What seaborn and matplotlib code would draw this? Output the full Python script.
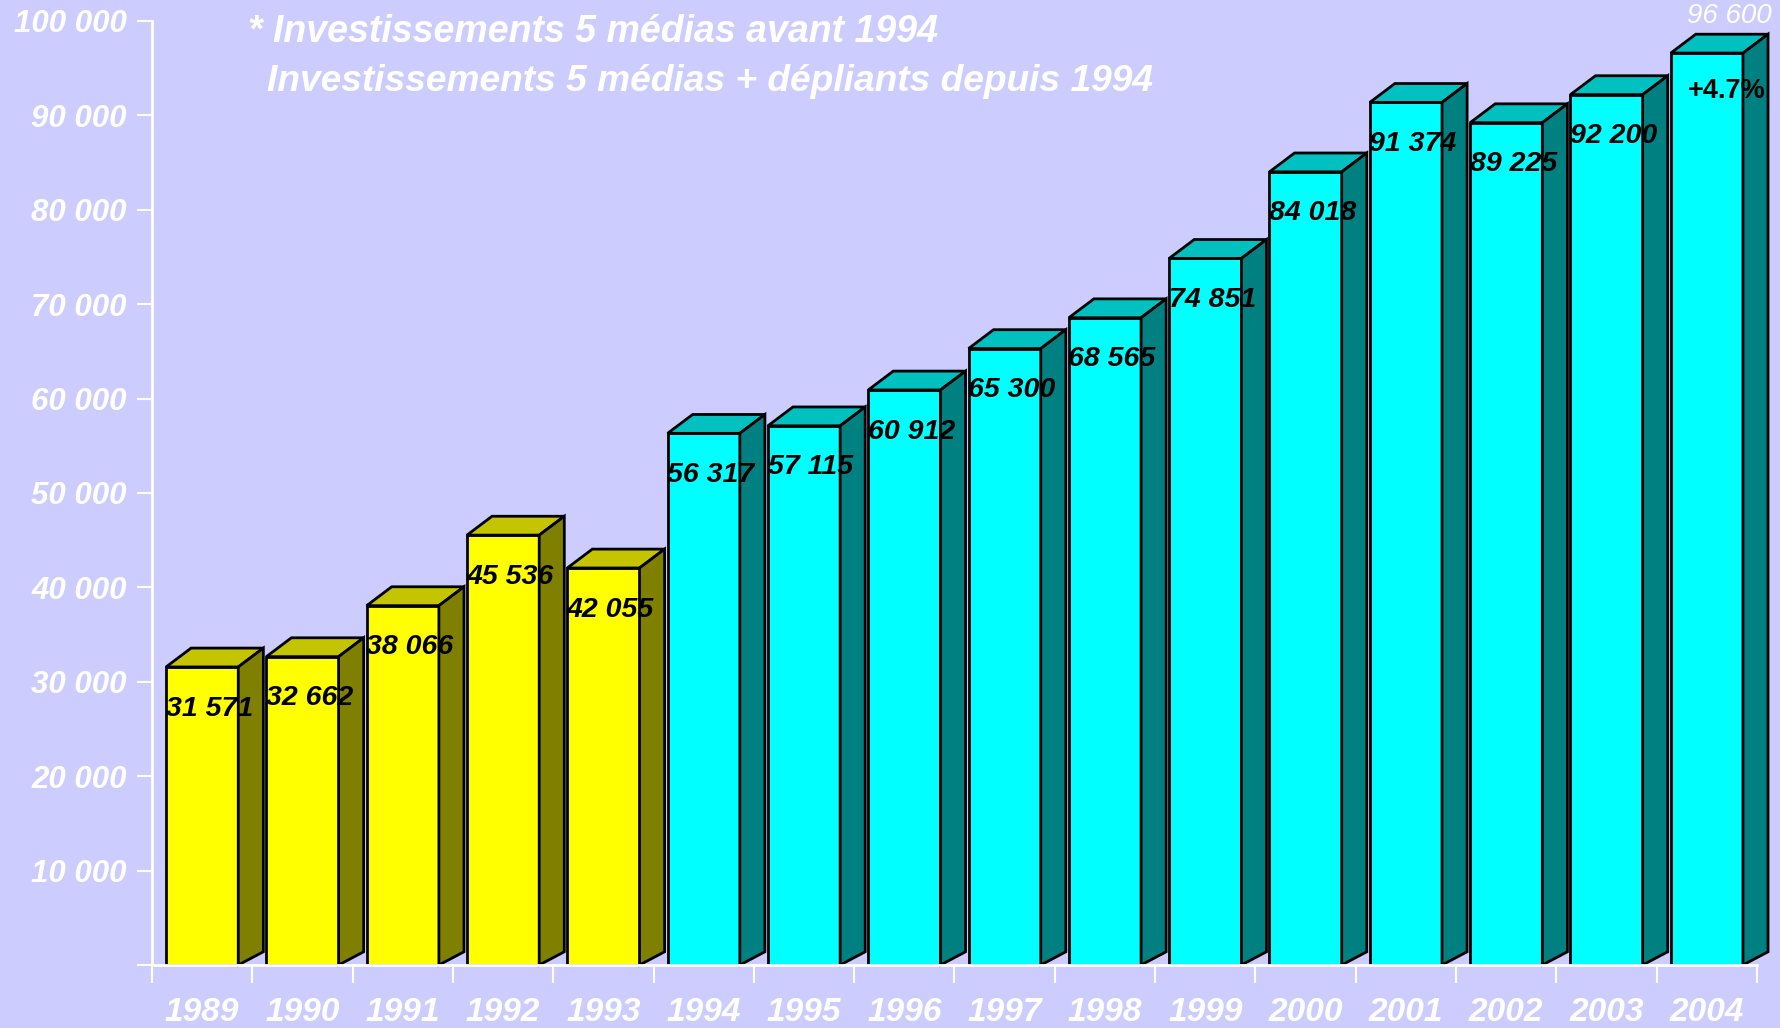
import pandas as pd
import matplotlib.pyplot as plt
import seaborn as sns

# data
annees = ['1989', '1990', '1991', '1992', '1993', '1994', '1995', '1996',
          '1997', '1998', '1999', '2000', '2001', '2002', '2003', '2004']
valeurs = [31571, 32662, 38066, 45536, 42055, 56317, 57115, 60912,
           65300, 68565, 74851, 84018, 91374, 89225, 92200, 96600]
groupes = ['5 medias'] * 5 + ['5 medias + depliants'] * 11
yticks = [0, 10000, 20000, 30000, 40000, 50000, 60000, 70000, 80000, 90000, 100000]
titre1 = "* Investissements 5 médias avant 1994"
titre2 = "Investissements 5 médias + dépliants depuis 1994"
evol = "+4.7%"

df = pd.DataFrame({'annee': annees, 'valeur': valeurs, 'groupe': groupes})

def fmt(v):
    return f"{v:,}".replace(',', ' ')

plt.rcParams['font.family'] = ['Liberation Sans', 'DejaVu Sans']
bg = '#CCCCFF'
face = {'5 medias': '#FFFF00', '5 medias + depliants': '#00FFFF'}
top_col = {'#FFFF00': '#C4C400', '#00FFFF': '#00C0C0'}
side_col = {'#FFFF00': '#808000', '#00FFFF': '#008080'}

fig = plt.figure(figsize=(17.81, 10.28), dpi=100, facecolor=bg)
ax = fig.add_axes([152 / 1781, 63 / 1028, 1605 / 1781, 944 / 1028])
ax.set_facecolor(bg)

sns.barplot(data=df, x='annee', y='valeur', hue='groupe', palette=face,
            width=0.72, dodge=False, edgecolor='black', linewidth=2,
            errorbar=None, legend=False, saturation=1, ax=ax)

# fake 3D: top and side faces
dx, dy_top, dy_bot = 0.25, 2000, 1400
for p in ax.patches:
    x0, w, h = p.get_x(), p.get_width(), p.get_height()
    if h == 0:
        continue
    fc = '#FFFF00' if p.get_facecolor()[2] < 0.5 else '#00FFFF'
    ax.fill([x0, x0 + dx, x0 + w + dx, x0 + w],
            [h, h + dy_top, h + dy_top, h],
            facecolor=top_col[fc], edgecolor='black', linewidth=2,
            clip_on=False, zorder=3)
    ax.fill([x0 + w, x0 + w + dx, x0 + w + dx, x0 + w],
            [0, dy_bot, h + dy_top, h],
            facecolor=side_col[fc], edgecolor='black', linewidth=2,
            clip_on=False, zorder=3)

# value labels
for i, v in enumerate(valeurs):
    if i == len(valeurs) - 1:
        ax.text(i + 0.2, v - 4000, evol, ha='center', va='center',
                fontsize=19.5, fontweight='bold', color='black', zorder=5)
        ax.text(i + 0.22, v + 3900, fmt(v), ha='center', va='center',
                fontsize=20, fontstyle='italic', color='white',
                clip_on=False, zorder=5)
    else:
        ax.text(i + 0.07, v - 4400, fmt(v), ha='center', va='center',
                fontsize=20.5, fontweight='bold', fontstyle='italic',
                color='black', zorder=5)

ax.set_xlim(-0.5, len(annees) - 0.5)
ax.set_ylim(0, 100000)
ax.set_yticks(yticks)
ax.set_yticklabels([''] + [fmt(t) for t in yticks[1:]])
ax.set_xticks(range(len(annees)))
ax.set_xticklabels(annees)
ax.set_xticks([i - 0.5 for i in range(len(annees) + 1)], minor=True)
ax.set_xlabel('')
ax.set_ylabel('')

for s in ['top', 'right']:
    ax.spines[s].set_visible(False)
for s in ['left', 'bottom']:
    ax.spines[s].set_color('white')
    ax.spines[s].set_linewidth(2)
    ax.spines[s].set_zorder(4)

ax.tick_params(axis='y', colors='white', length=11, width=1.5, pad=7,
               labelsize=22.5)
ax.tick_params(axis='x', which='major', length=0, pad=23, colors='white',
               labelsize=24)
ax.tick_params(axis='x', which='minor', length=13, width=1.5, colors='white')
for lab in ax.get_xticklabels() + ax.get_yticklabels():
    lab.set_fontweight('bold')
    lab.set_fontstyle('italic')

fig.text(248 / 1781, 1 - 32 / 1028, titre1, ha='left', va='center',
         fontsize=27, fontweight='bold', fontstyle='italic', color='white')
fig.text(267 / 1781, 1 - 82 / 1028, titre2, ha='left', va='center',
         fontsize=26.7, fontweight='bold', fontstyle='italic', color='white')

plt.savefig('out.png', dpi=100, facecolor=bg)
plt.close()
